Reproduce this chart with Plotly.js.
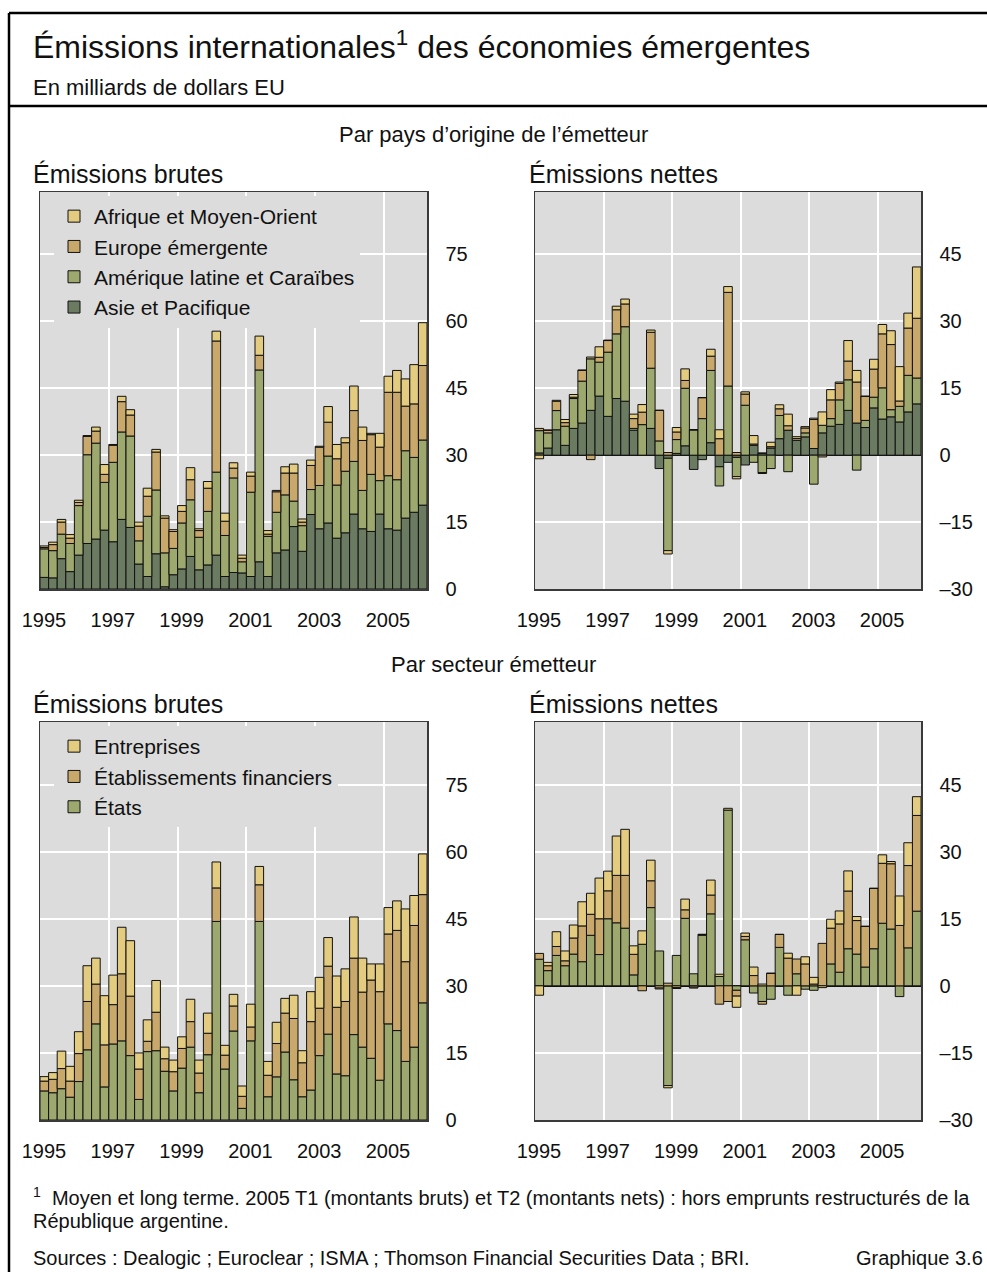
<!DOCTYPE html>
<html>
<head>
<meta charset="utf-8">
<script src="https://cdn.plot.ly/plotly-3.0.1.min.js"></script>
<style>
  html, body { margin: 0; padding: 0; background: #ffffff; }
  #chart { width: 987px; height: 1272px; }
</style>
</head>
<body>
<div id="chart"></div>
<script>
// Quarterly categories, 1995 T1 to 2006 T1
const quarters = [];
for (let y = 1995; y <= 2006; y++) {
  for (let q = 1; q <= 4; q++) {
    if (quarters.length < 45) quarters.push(y + ' T' + q);
  }
}
// Each quarter sits in the middle of its quarter-year slot on a time axis
const quarterPos = quarters.map(s => {
  const parts = s.split(' T');
  return Number(parts[0]) + (Number(parts[1]) - 0.5) / 4;
});

const yearTickVals = [1995, 1997, 1999, 2001, 2003, 2005];
const yearTickText = ['1995', '1997', '1999', '2001', '2003', '2005'];

const grossTickVals = [0, 15, 30, 45, 60, 75];
const grossTickText = ['0', '15', '30', '45', '60', '75'];
const netTickVals = [-30, -15, 0, 15, 30, 45];
const netTickText = ['–30', '–15', '0', '15', '30', '45'];

// Gross issuance by region of the issuer (billions of US dollars)
const grossAsie = [2.6, 2.5, 6.8, 3.9, 7.6, 10.2, 11.2, 13.2, 10.6, 15.6, 13.8, 5.6, 2.8, 7.9, 0.5, 3.2, 4.5, 7.3, 4.3, 5.4, 7.6, 2.8, 3.7, 3.6, 2.8, 6.1, 2.8, 8.1, 8.75, 14.0, 8.45, 16.7, 13.5, 14.8, 11.4, 12.6, 16.8, 13.5, 12.9, 16.8, 13.5, 13.2, 15.9, 17.2, 18.8];
const grossAmLat = [6.4, 6.1, 5.5, 6.3, 11.1, 19.9, 21.5, 10.7, 17.8, 19.6, 20.5, 5.2, 13.5, 14.3, 7.6, 5.9, 10.3, 12.7, 7.3, 12.0, 18.6, 9.2, 21.2, 2.5, 18.9, 43.0, 9.0, 9.1, 12.35, 5.7, 5.75, 5.6, 9.7, 15.0, 11.9, 13.8, 11.8, 8.6, 12.8, 7.5, 11.9, 11.3, 15.1, 12.3, 14.6];
const grossEurope = [0.3, 1.35, 2.7, 1.2, 0.7, 4.1, 2.7, 1.8, 3.8, 6.8, 4.7, 3.3, 4.5, 8.5, 7.8, 3.8, 2.6, 4.5, 1.5, 5.2, 29.4, 3.2, 2.2, 0.8, 3.6, 3.3, 0.5, 4.6, 4.9, 6.3, 0.8, 5.4, 8.6, 7.6, 5.9, 6.4, 11.4, 11.2, 8.9, 7.5, 18.7, 19.6, 10.0, 12.0, 16.7];
const grossAfrique = [0.35, 0.55, 0.6, 0.8, 0.5, 0.2, 0.9, 2.2, 0.2, 1.2, 1.2, 0.9, 1.8, 0.6, 0.5, 0.4, 1.3, 2.7, 0.4, 1.5, 2.2, 1.8, 1.2, 0.7, 0.9, 4.3, 0.8, 0.3, 1.4, 2.0, 0.7, 1.2, 0.2, 3.5, 3.2, 1.1, 5.5, 3.0, 0.3, 3.1, 3.6, 4.9, 6.1, 8.8, 9.6];

// Net issuance by region of the issuer
const netAsie = [0.5, 1.6, 5.7, 2.2, 6.0, 7.2, 10.05, 13.25, 8.7, 12.7, 12.1, 5.6, 0, 6.0, -3.0, -0.7, 0.4, 2.1, -3.2, -1.0, 2.8, -2.6, -1.6, -0.5, -2.2, 2.2, 0.4, 1.6, 3.7, 5.6, 3.35, 4.1, 1.5, 5.0, 6.5, 6.9, 10.05, 7.2, 6.2, 10.6, 8.1, 8.6, 7.45, 9.7, 11.5];
const netAmLat = [5.0, 3.4, 4.3, 4.3, 6.7, 9.4, 11.55, 7.6, 14.4, 14.5, 16.7, 0.4, 6.85, 13.5, 3.2, -20.7, 3.1, 12.9, 5.7, 8.2, 16.2, -4.3, 15.5, -4.3, 11.2, -1.6, -3.9, -3.0, 5.2, -3.7, 0, 0.9, -6.5, 1.7, 1.7, 5.5, 6.85, -3.35, 1.6, 2.4, 7.0, 1.6, 3.5, 8.2, 5.8];
const netEurope = [0.5, 0.6, 2.1, 0.8, 0.3, 2.4, -1.0, 1.1, 2.6, 5.4, 5.1, 2.2, 2.8, 8.05, 6.85, 0.6, 1.7, 1.75, 0, 4.7, 3.2, 3.7, 21.0, 0.6, 2.5, 0.3, -0.2, 0.3, 1.5, 1.0, 0.4, 1.1, 6.5, -0.4, 4.2, 3.7, 4.2, 9.2, 5.4, 6.3, 12.1, 14.6, 1.2, 10.6, 13.4];
const netAfrique = [-0.8, 0, 0.2, 0.7, 0.6, 0.1, 0.4, 2.35, 0.1, 0.8, 1.1, 1.0, 1.7, 0.5, 0, -0.75, 1.0, 2.6, 0, 0, 1.55, 2.0, 1.3, -0.5, 0.5, 1.9, 0.1, 1.0, 0.9, 2.6, 0.4, 0.3, 0.3, 3.0, 2.3, 0.3, 4.6, 2.6, 0, 2.2, 2.1, 3.1, 7.7, 3.35, 11.5];

// Gross issuance by sector of the issuer
const grossEtats = [6.5, 6.1, 7.0, 5.1, 8.6, 15.7, 21.5, 7.4, 17.0, 17.7, 14.4, 4.6, 15.3, 15.5, 10.9, 6.5, 11.6, 16.3, 6.1, 14.6, 44.4, 11.4, 19.9, 2.6, 17.7, 44.4, 5.2, 9.65, 15.2, 9.0, 5.2, 6.7, 14.4, 19.2, 10.3, 9.9, 19.1, 16.3, 13.8, 8.9, 21.5, 20.0, 13.1, 16.3, 26.2];
const grossFinanciers = [2.2, 3.0, 4.5, 3.6, 6.25, 10.8, 8.9, 9.4, 8.8, 15.0, 13.3, 6.8, 2.3, 8.6, 2.8, 4.3, 4.4, 5.7, 4.4, 4.8, 7.5, 3.1, 5.6, 2.7, 3.1, 8.2, 4.8, 7.45, 8.7, 13.7, 7.6, 15.3, 10.6, 15.2, 14.9, 16.6, 17.1, 12.3, 17.5, 19.8, 20.1, 22.4, 22.3, 27.2, 24.2];
const grossEntreprises = [1.0, 1.5, 3.9, 3.3, 4.9, 8.0, 5.8, 11.0, 6.6, 10.4, 12.4, 3.6, 4.8, 7.1, 2.6, 2.6, 2.6, 5.0, 2.9, 4.5, 5.8, 2.2, 2.6, 2.3, 5.1, 4.1, 3.1, 4.75, 3.3, 5.2, 2.7, 6.7, 6.9, 6.4, 7.0, 7.3, 9.2, 7.6, 3.6, 6.2, 5.9, 6.6, 11.8, 6.7, 9.1];

// Net issuance by sector of the issuer
const netEtats = [5.95, 3.4, 6.8, 4.5, 7.1, 5.4, 11.3, 7.0, 15.0, 14.1, 12.9, 2.45, 9.3, 17.5, 7.8, -22.3, 6.8, 15.1, 2.7, 11.3, 16.1, 2.1, 39.3, -1.0, 10.3, -1.6, -3.5, -3.0, 8.6, -2.1, 2.7, -0.75, -1.0, 0, 4.9, 3.05, 8.3, 7.1, 4.2, 8.3, 14.0, 12.7, -2.4, 8.5, 16.7];
const netFinanciers = [1.3, 1.1, 2.0, 1.1, 3.6, 8.0, 4.7, 8.0, 6.25, 10.6, 11.8, 4.6, -1.1, 6.0, -0.5, 0.6, -0.4, 1.9, -0.3, 0.2, 4.2, -4.1, -3.5, -1.3, 0.75, 2.3, -0.6, 2.8, 2.9, 6.2, 3.3, 4.9, 0.4, 9.5, 8.0, 10.8, 12.9, 7.5, 9.1, 13.5, 13.4, 14.6, 13.5, 18.4, 21.4];
const netEntreprises = [-2.1, 0.75, 3.3, 2.2, 2.9, 5.4, 4.7, 9.1, 4.4, 8.8, 10.3, 1.9, 3.0, 4.6, -0.2, -0.5, -0.2, 2.4, -0.2, 0, 3.35, 0.5, 0.4, -2.5, 0.75, 1.9, 0.4, 0, 0, 1.1, -2.1, 1.6, 1.5, -0.4, 2.0, 2.9, 4.5, 0.9, 0, 0, 1.9, 0.5, 6.6, 5.1, 4.2];

// Series colours
const C_ASIE = '#6b7b62';
const C_AMLAT = '#9ca86d';
const C_EUROPE = '#c9a96b';
const C_AFRIQUE = '#e3cb80';

// Pixel helpers for a 987 x 1272 canvas
const W = 987, H = 1272;
const px = v => v / W;
const py = v => 1 - v / H;

const FONT = 'Liberation Sans, Arial, Helvetica, sans-serif';

function barTrace(name, values, color, xa, ya, legendId) {
  return {
    type: 'bar',
    name: name,
    x: quarterPos,
    y: values,
    width: 0.25,
    xaxis: xa,
    yaxis: ya,
    marker: { color: color, line: { color: '#111111', width: 1 } },
    showlegend: !!legendId,
    legend: legendId || 'legend',
    hoverinfo: 'skip'
  };
}

const data = [
  // Gross, by region
  barTrace('Asie et Pacifique', grossAsie, C_ASIE, 'x', 'y', 'legend'),
  barTrace('Amérique latine et Caraïbes', grossAmLat, C_AMLAT, 'x', 'y', 'legend'),
  barTrace('Europe émergente', grossEurope, C_EUROPE, 'x', 'y', 'legend'),
  barTrace('Afrique et Moyen-Orient', grossAfrique, C_AFRIQUE, 'x', 'y', 'legend'),
  // Net, by region
  barTrace('Asie et Pacifique', netAsie, C_ASIE, 'x2', 'y2'),
  barTrace('Amérique latine et Caraïbes', netAmLat, C_AMLAT, 'x2', 'y2'),
  barTrace('Europe émergente', netEurope, C_EUROPE, 'x2', 'y2'),
  barTrace('Afrique et Moyen-Orient', netAfrique, C_AFRIQUE, 'x2', 'y2'),
  // Gross, by sector
  barTrace('États', grossEtats, C_AMLAT, 'x3', 'y3', 'legend2'),
  barTrace('Établissements financiers', grossFinanciers, C_EUROPE, 'x3', 'y3', 'legend2'),
  barTrace('Entreprises', grossEntreprises, C_AFRIQUE, 'x3', 'y3', 'legend2'),
  // Net, by sector
  barTrace('États', netEtats, C_AMLAT, 'x4', 'y4'),
  barTrace('Établissements financiers', netFinanciers, C_EUROPE, 'x4', 'y4'),
  barTrace('Entreprises', netEntreprises, C_AFRIQUE, 'x4', 'y4')
];

function xAxis(domain, anchor) {
  return {
    domain: domain,
    anchor: anchor,
    type: 'linear',
    range: [1995, 2006.25],
    tickmode: 'array',
    tickvals: yearTickVals,
    ticktext: yearTickText,
    tickangle: 0,
    automargin: false,
    ticks: '',
    ticklabelstandoff: 12,
    ticklabelshift: 4,
    showgrid: true,
    gridcolor: '#ffffff',
    gridwidth: 2,
    zeroline: false,
    showline: true,
    mirror: true,
    linecolor: '#3a3a3a',
    linewidth: 1.5,
    tickfont: { family: FONT, size: 20, color: '#111111' },
    fixedrange: true
  };
}

function yAxis(domain, anchor, range, vals, text, zero) {
  return {
    domain: domain,
    anchor: anchor,
    side: 'right',
    range: range,
    tickmode: 'array',
    tickvals: vals,
    ticktext: text,
    automargin: false,
    ticks: 'outside',
    ticklen: 13,
    tickcolor: 'rgba(0,0,0,0)',
    showgrid: true,
    gridcolor: '#ffffff',
    gridwidth: 2,
    zeroline: zero,
    zerolinecolor: '#111111',
    zerolinewidth: 1.5,
    showline: true,
    mirror: true,
    linecolor: '#3a3a3a',
    linewidth: 1.5,
    tickfont: { family: FONT, size: 20, color: '#111111' },
    fixedrange: true
  };
}

const xLeft = [px(40), px(427)];
const xRight = [px(535), px(921)];
const yTop = [py(589), py(192)];
const yBottom = [py(1120), py(722)];

function label(text, x, y, size, anchor) {
  return {
    text: text,
    xref: 'paper', yref: 'paper',
    x: px(x), y: py(y),
    xanchor: anchor || 'left', yanchor: 'middle',
    showarrow: false,
    font: { family: FONT, size: size, color: '#111111' }
  };
}

const legendBase = {
  bgcolor: '#dcdcdc',
  borderwidth: 0,
  traceorder: 'reversed',
  font: { family: FONT, size: 21, color: '#111111' },
  xanchor: 'left',
  yanchor: 'top',
  itemclick: false,
  itemdoubleclick: false
};

const layout = {
  width: W,
  height: H,
  margin: { l: 0, r: 0, t: 0, b: 0 },
  paper_bgcolor: '#ffffff',
  plot_bgcolor: '#dcdcdc',
  barmode: 'relative',
  bargap: 0,
  font: { family: FONT, color: '#111111' },
  xaxis: xAxis(xLeft, 'y'),
  yaxis: yAxis(yTop, 'x', [0, 89], grossTickVals, grossTickText, false),
  xaxis2: xAxis(xRight, 'y2'),
  yaxis2: yAxis(yTop, 'x2', [-30, 59], netTickVals, netTickText, true),
  xaxis3: xAxis(xLeft, 'y3'),
  yaxis3: yAxis(yBottom, 'x3', [0, 89], grossTickVals, grossTickText, false),
  xaxis4: xAxis(xRight, 'y4'),
  yaxis4: yAxis(yBottom, 'x4', [-30, 59], netTickVals, netTickText, true),
  legend: Object.assign({}, legendBase, { x: px(54), y: py(196) }),
  legend2: Object.assign({}, legendBase, { x: px(54), y: py(726) }),
  annotations: [
    label('Émissions internationales<sup>1</sup> des économies émergentes', 31, 45, 32),
    label('En milliards de dollars EU', 31, 88, 22),
    label('Par pays d’origine de l’émetteur', 493.5, 134, 22, 'center'),
    label('Émissions brutes', 31, 174, 25),
    label('Émissions nettes', 527, 174, 25),
    label('Par secteur émetteur', 493.5, 664, 22, 'center'),
    label('Émissions brutes', 31, 704, 25),
    label('Émissions nettes', 527, 704, 25),
    label('<sup>1</sup>  Moyen et long terme. 2005 T1 (montants bruts) et T2 (montants nets) : hors emprunts restructurés de la', 31, 1196, 20),
    label('République argentine.', 31, 1221, 20),
    label('Sources : Dealogic ; Euroclear ; ISMA ; Thomson Financial Securities Data ; BRI.', 31, 1258, 20),
    label('Graphique 3.6', 985, 1258, 20, 'right')
  ],
  shapes: [
    { type: 'line', xref: 'paper', yref: 'paper', x0: px(9), x1: 1, y0: py(13), y1: py(13), line: { color: '#000000', width: 2.5 } },
    { type: 'line', xref: 'paper', yref: 'paper', x0: px(9), x1: 1, y0: py(106), y1: py(106), line: { color: '#000000', width: 2.5 } },
    { type: 'line', xref: 'paper', yref: 'paper', x0: px(9), x1: px(9), y0: py(13), y1: 0, line: { color: '#000000', width: 2.5 } }
  ]
};

Plotly.newPlot('chart', data, layout, { displayModeBar: false, staticPlot: true });
</script>
</body>
</html>
